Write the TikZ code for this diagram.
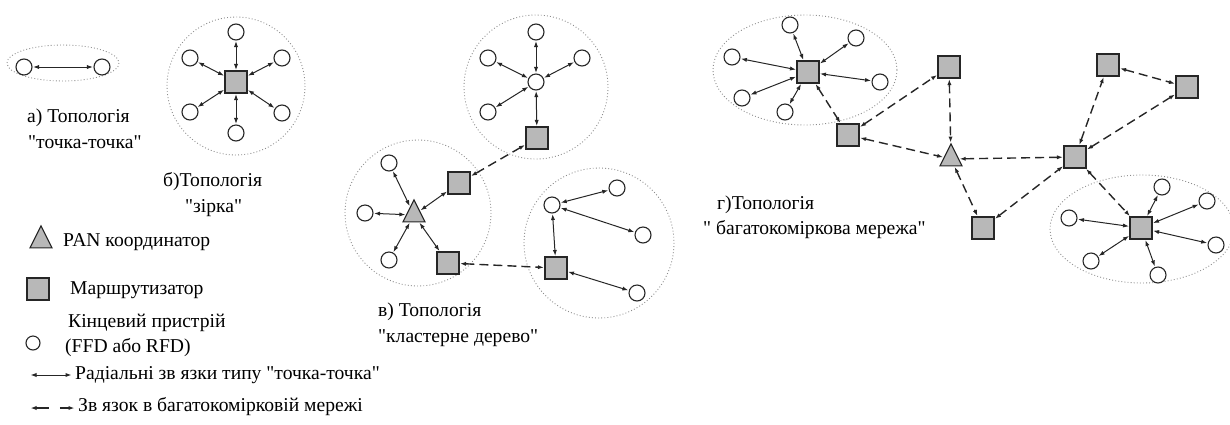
\documentclass[tikz,border=0pt]{standalone}
\usepackage{fontspec}
\setmainfont{Liberation Serif}
% label family without TeX ligatures, so that " stays a straight quote
\newfontfamily\labelfont{Liberation Serif}
\usetikzlibrary{arrows.meta,shapes.geometric}

\tikzset{
  dev/.style={circle, draw=black!85, line width=1.1pt, fill=white, minimum size=16pt, inner sep=0pt},
  rtr/.style={rectangle, draw=black!85, line width=1.1pt, fill=black!28, minimum size=22pt, inner sep=0pt},
  pan/.style={isosceles triangle, isosceles triangle stretches, shape border rotate=90,
              draw=black!85, line width=1.1pt, fill=black!28, minimum width=22pt, minimum height=22pt, inner sep=0pt},
  tip/.tip={Latex[length=6pt,width=4.2pt]},
  link/.style={draw=black!85, line width=1pt, {tip}-{tip}, shorten <=0.5pt, shorten >=0.5pt},
  mesh/.style={draw=black!85, line width=1.4pt, dash pattern=on 9pt off 5pt, {tip}-{tip}, shorten <=0.5pt, shorten >=0.5pt},
  cluster/.style={draw=black!45, line width=0.9pt, dash pattern=on 0.9pt off 2.2pt},
  lbl/.style={anchor=west, inner sep=0pt, font=\labelfont\fontsize{19.6}{22}\selectfont},
}

\begin{document}
\begin{tikzpicture}[x=1pt, y=-1pt]
\useasboundingbox (0,0) rectangle (1230,424);

% ---------- a) point-to-point ----------
\draw[cluster] (63,63) ellipse [x radius=56, y radius=18];
\node[dev] (a1) at (24,67) {};
\node[dev] (a2) at (102,67) {};
\draw[link] (a1) -- (a2);
\node[lbl] (ta1) at (27,118) {а) Топологія};
\node[lbl] (ta2) at (28,142) {"точка-точка"};

% ---------- b) star ----------
\draw[cluster] (236,86) circle [radius=69];
\node[rtr] (b0) at (236,82) {};
\node[dev] (b1) at (236,32) {};
\node[dev] (b2) at (190,58) {};
\node[dev] (b3) at (282,58) {};
\node[dev] (b4) at (190,112) {};
\node[dev] (b5) at (282,113) {};
\node[dev] (b6) at (236,133) {};
\foreach \n in {b1,b2,b3,b4,b5,b6} \draw[link] (b0) -- (\n);
\node[lbl] (tb1) at (163,182) {б)Топологія};
\node[lbl] (tb2) at (185,208) {"зірка"};

% ---------- c) cluster tree ----------
\draw[cluster] (536,87) circle [radius=72];
\draw[cluster] (418,213) circle [radius=73];
\draw[cluster] (599,243) circle [radius=75];
% upper cluster
\node[dev] (c0) at (536,82) {};
\node[dev] (c1) at (536,32) {};
\node[dev] (c2) at (488,58) {};
\node[dev] (c3) at (582,58) {};
\node[dev] (c4) at (488,112) {};
\node[rtr] (cs1) at (537,138) {};
\foreach \n in {c1,c2,c3,c4,cs1} \draw[link] (c0) -- (\n);
% coordinator cluster
\node[pan] (ct) at (414,215) {};
\node[dev] (ct1) at (389,163) {};
\node[dev] (ct2) at (365,213) {};
\node[dev] (ct3) at (389,260) {};
\node[rtr] (cs2) at (459,183) {};
\node[rtr] (cs3) at (448,263) {};
\foreach \n in {ct1,ct2,ct3,cs2,cs3} \draw[link] (ct) -- (\n);
% right cluster
\node[dev] (cr0) at (552,205) {};
\node[dev] (cr1) at (617,188) {};
\node[dev] (cr2) at (643,235) {};
\node[rtr] (cs4) at (556,268) {};
\node[dev] (cr3) at (637,293) {};
\foreach \n in {cr1,cr2,cs4} \draw[link] (cr0) -- (\n);
\draw[link] (cs4) -- (cr3);
% links between clusters
\draw[mesh] (cs1) -- (cs2);
\draw[mesh] (cs3) -- (cs4);
\node[lbl] (tc1) at (378,312) {в) Топологія};
\node[lbl] (tc2) at (378,338) {"кластерне дерево"};

% ---------- d) mesh ----------
\draw[cluster] (805,70) ellipse [x radius=92, y radius=55];
\draw[cluster] (1142,229) ellipse [x radius=92, y radius=54];
\node[rtr] (d0) at (808,72) {};
\node[dev] (d01) at (790,25) {};
\node[dev] (d02) at (856,38) {};
\node[dev] (d03) at (880,82) {};
\node[dev] (d04) at (732,57) {};
\node[dev] (d05) at (742,98) {};
\node[dev] (d06) at (785,112) {};
\foreach \n in {d01,d02,d03,d04,d05,d06} \draw[link] (d0) -- (\n);
\node[rtr] (d1) at (848,135) {};
\node[rtr] (d2) at (949,67) {};
\node[pan] (dt) at (951,159) {};
\node[rtr] (d3) at (983,228) {};
\node[rtr] (d4) at (1075,157) {};
\node[rtr] (d5) at (1108,65) {};
\node[rtr] (d6) at (1187,87) {};
\node[rtr] (d7) at (1141,228) {};
\node[dev] (d71) at (1162,187) {};
\node[dev] (d72) at (1207,201) {};
\node[dev] (d73) at (1069,218) {};
\node[dev] (d74) at (1216,245) {};
\node[dev] (d75) at (1091,261) {};
\node[dev] (d76) at (1158,275) {};
\foreach \n in {d71,d72,d73,d74,d75,d76} \draw[link] (d7) -- (\n);
\draw[mesh] (d0) -- (d1);
\draw[mesh] (d1) -- (d2);
\draw[mesh] (d1) -- (dt);
\draw[mesh] (d2) -- (dt);
\draw[mesh] (dt) -- (d3);
\draw[mesh] (dt) -- (d4);
\draw[mesh] (d3) -- (d4);
\draw[mesh] (d4) -- (d5);
\draw[mesh] (d4) -- (d6);
\draw[mesh] (d5) -- (d6);
\draw[mesh] (d4) -- (d7);
\node[lbl] (td1) at (717,205) {г)Топологія};
\node[lbl] (td2) at (703,230) {" багатокоміркова мережа"};

% ---------- legend ----------
\node[pan] (lg1) at (41,241) {};
\node[lbl] (lt1) at (63,242) {PAN координатор};
\node[rtr] (lg2) at (38,289) {};
\node[lbl] (lt2) at (70,290) {Маршрутизатор};
\node[dev, minimum size=14pt] (lg3) at (33,343) {};
\node[lbl] (lt3) at (68,323) {Кінцевий пристрій};
\node[lbl] (lt4) at (65,348) {(FFD або RFD)};
\coordinate (ls1) at (30,375);
\coordinate (ls2) at (72,375);
\draw[link] (ls1) -- (ls2);
\node[lbl] (lt5) at (75,375) {Радіальні зв язки типу "точка-точка"};
\coordinate (lm1) at (30,408);
\coordinate (lm2) at (75,408);
\draw[mesh, dash pattern=on 13pt off 11pt] (lm1) -- (lm2);
\node[lbl] (lt6) at (78,407) {Зв язок в багатокомірковій мережі};
\end{tikzpicture}
\end{document}
